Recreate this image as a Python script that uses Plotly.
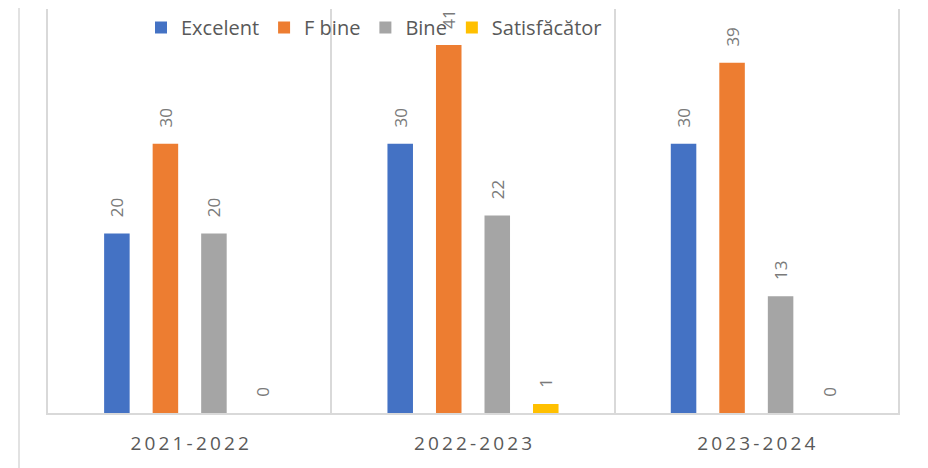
import plotly.graph_objects as go

categories = ["2021-2022", "2022-2023", "2023-2024"]
series_names = ["Excelent", "F bine", "Bine", "Satisfăcător"]
excelent = [20, 30, 30]
f_bine = [30, 41, 39]
bine = [20, 22, 13]
satisfacator = [0, 1, 0]
series_values = [excelent, f_bine, bine, satisfacator]
colors = ["#4472C4", "#ED7D31", "#A5A5A5", "#FFC000"]

# spaced-out category labels (Excel-style character spacing)
tick_text = ["\u2009".join(list(c)) for c in categories]

pad = "\u00a0\u00a0\u00a0"

fig = go.Figure()
for name, vals, col in zip(series_names, series_values, colors):
    fig.add_trace(go.Bar(
        name=name, x=categories, y=vals,
        marker=dict(color=col, line=dict(width=0)),
        text=[pad + str(v) for v in vals],
        textposition="outside",
        textangle=-90,
        constraintext="none",
        cliponaxis=False,
        textfont=dict(family="Open Sans", size=17, color="#7A7A7A"),
    ))

# page body has an 8px margin; the figure is sized/offset to compensate
W, H = 920, 460
ml, mr, mt, mb = 40, 30, 0, 55
pw = W - ml - mr
ph = H - mt - mb

fig.update_layout(
    width=W, height=H,
    margin=dict(l=ml, r=mr, t=mt, b=mb, pad=0),
    paper_bgcolor="white", plot_bgcolor="white",
    barmode="group", bargap=0.315, bargroupgap=0.474,
    font=dict(family="Open Sans", color="#595959"),
    showlegend=True,
    legend=dict(
        orientation="h", x=(366 - ml) / pw, xanchor="center",
        y=1 - (19 - mt) / ph, yanchor="middle",
        bgcolor="rgba(0,0,0,0)",
        font=dict(family="Open Sans", size=20, color="#595959"),
        traceorder="normal",
    ),
    xaxis=dict(
        type="category",
        tickmode="array", tickvals=categories, ticktext=tick_text,
        tickson="boundaries", ticks="", showgrid=True,
        gridcolor="#D9D9D9", gridwidth=1.5,
        showline=True, linecolor="#D9D9D9", linewidth=1.5,
        tickfont=dict(family="Open Sans", size=19, color="#595959"),
        ticklabelstandoff=12,
        range=[-0.5, 2.5],
    ),
    yaxis=dict(
        range=[0, 45], showgrid=False, zeroline=False,
        showticklabels=False, ticks="",
        showline=True, mirror=True, linecolor="#D9D9D9", linewidth=1.5,
    ),
    shapes=[dict(
        type="line", xref="paper", yref="paper",
        x0=(11 - ml) / pw, x1=(11 - ml) / pw, y0=-1, y1=2,
        line=dict(color="#D9D9D9", width=1.5),
    )],
)

fig.write_html("out.html")
